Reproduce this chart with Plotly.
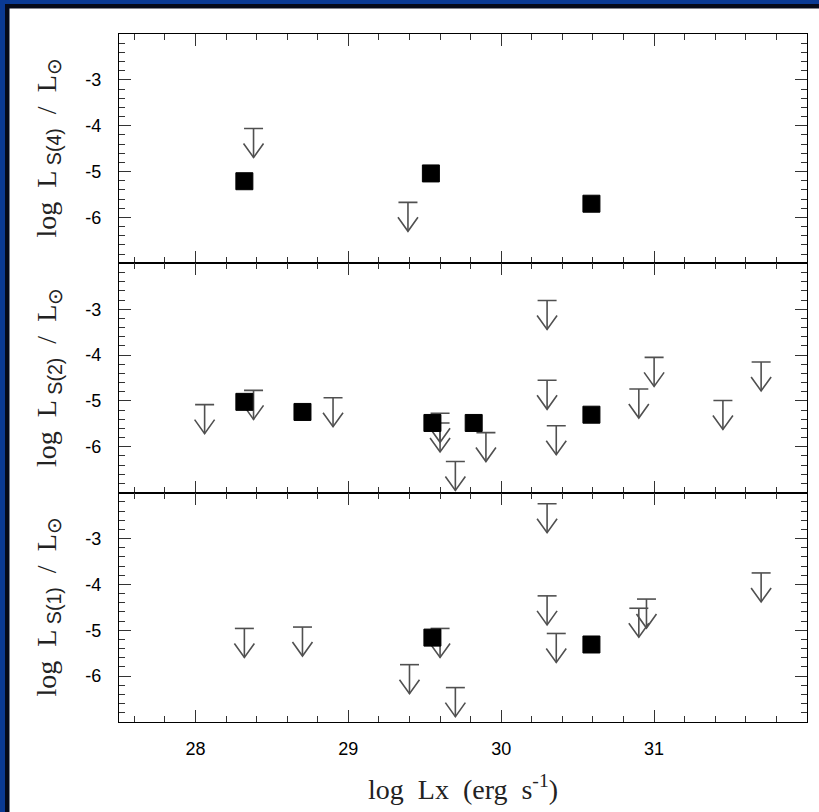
import plotly.graph_objects as go
from plotly.subplots import make_subplots

# ---------------- data ----------------
# Panel S(4) (top)
s4_det_x = [28.32, 29.54, 30.59]
s4_det_y = [-5.21, -5.04, -5.70]
s4_lim_x = [28.38, 29.39]
s4_lim_y = [-4.06, -5.67]

# Panel S(2) (middle)
s2_det_x = [28.32, 28.70, 29.55, 29.82, 30.59]
s2_det_y = [-5.02, -5.24, -5.48, -5.48, -5.30]
s2_lim_x = [28.06, 28.38, 28.90, 29.60, 29.60, 29.70, 29.90, 30.30, 30.30, 30.36, 30.90, 31.00, 31.45, 31.70]
s2_lim_y = [-5.08, -4.77, -4.93, -5.27, -5.48, -6.32, -5.69, -2.81, -4.55, -5.54, -4.74, -4.05, -4.99, -4.15]

# Panel S(1) (bottom)
s1_det_x = [29.55, 30.59]
s1_det_y = [-5.16, -5.31]
s1_lim_x = [28.32, 28.70, 29.40, 29.60, 29.70, 30.30, 30.30, 30.36, 30.90, 30.95, 31.70]
s1_lim_y = [-4.96, -4.93, -5.75, -4.96, -6.25, -2.24, -4.25, -5.07, -4.52, -4.32, -3.75]

x_tick_vals = [28, 29, 30, 31]
y_tick_vals = [-6, -5, -4, -3]
y_tick_text = ["-6", "-5", "-4", "-3"]

x_title = "log\u00a0\u00a0Lx\u00a0\u00a0(erg\u00a0\u00a0s<sup>-1</sup>)"
y_titles = [
    "log\u00a0\u00a0L<sub><span style='font-family:Liberation Sans'>\u00a0S(4)</span></sub>\u00a0\u00a0/\u00a0\u00a0L<sub>\u2299</sub>",
    "log\u00a0\u00a0L<sub><span style='font-family:Liberation Sans'>\u00a0S(2)</span></sub>\u00a0\u00a0/\u00a0\u00a0L<sub>\u2299</sub>",
    "log\u00a0\u00a0L<sub><span style='font-family:Liberation Sans'>\u00a0S(1)</span></sub>\u00a0\u00a0/\u00a0\u00a0L<sub>\u2299</sub>",
]

panels = [
    (s4_det_x, s4_det_y, s4_lim_x, s4_lim_y),
    (s2_det_x, s2_det_y, s2_lim_x, s2_lim_y),
    (s1_det_x, s1_det_y, s1_lim_x, s1_lim_y),
]

# ---------------- layout geometry ----------------
W, H = 819, 812
ML, MR, MT, MB = 119, 12, 34, 90
PW = W - ML - MR
PH = H - MT - MB
XR = [27.5, 32.0]
YR = [-7.0, -2.0]
px_per_x = PW / (XR[1] - XR[0])
px_per_y = (PH / 3) / (YR[1] - YR[0])


def pxx(px):
    return (px - ML) / PW


def pyy(py):
    return (H - MB - py) / PH


def limit_path(xs, ys):
    bx = 9.5 / px_per_x
    L = 29 / px_per_y
    ax = 10 / px_per_x
    ay = 14 / px_per_y
    X, Y = [], []
    for x, y in zip(xs, ys):
        X += [x - bx, x + bx, None, x, x, None, x - ax, x, x + ax, None]
        Y += [y, y, None, y, y - L, None, y - L + ay, y - L, y - L + ay, None]
    return X, Y


fig = make_subplots(rows=3, cols=1, shared_xaxes=True, vertical_spacing=0)

for i, (dx, dy, lx, ly) in enumerate(panels, start=1):
    ax_, ay_ = limit_path(lx, ly)
    fig.add_trace(go.Scatter(x=ax_, y=ay_, mode="lines",
                             line=dict(color="#505050", width=1.6),
                             hoverinfo="skip", showlegend=False), row=i, col=1)
    fig.add_trace(go.Scatter(x=dx, y=dy, mode="markers",
                             marker=dict(symbol="square", size=17, color="black",
                                         line=dict(color="black", width=1)),
                             hoverinfo="skip", showlegend=False), row=i, col=1)

tickfont = dict(family="Liberation Sans, Arial, sans-serif", size=18, color="black")

for i in range(1, 4):
    fig.update_xaxes(row=i, col=1, range=XR, tickvals=x_tick_vals,
                     ticks="inside", ticklen=12, tickwidth=1.3, tickcolor="#333",
                     showline=True, linecolor="black", linewidth=1.2, mirror="allticks",
                     showgrid=False, zeroline=False,
                     minor=dict(ticks="inside", ticklen=6, tickwidth=1.2, tickcolor="#333",
                                tickmode="linear", tick0=28, dtick=0.2, showgrid=False),
                     tickfont=tickfont, ticklabelstandoff=10,
                     showticklabels=(i == 3))
    fig.update_yaxes(row=i, col=1, range=YR, tickvals=y_tick_vals, ticktext=y_tick_text,
                     ticks="inside", ticklen=12, tickwidth=1.3, tickcolor="#333",
                     showline=True, linecolor="black", linewidth=1.2, mirror="allticks",
                     showgrid=False, zeroline=False,
                     minor=dict(ticks="inside", ticklen=6, tickwidth=1.2, tickcolor="#333",
                                tickmode="linear", tick0=-7, dtick=0.2, showgrid=False),
                     tickfont=tickfont, ticklabelstandoff=13)

title_font = dict(family="Liberation Serif, Times New Roman, serif", size=28, color="#222")

annotations = []
panel_centers = [148.5, 378, 607.5]
for t, cy in zip(y_titles, panel_centers):
    annotations.append(dict(text=t, xref="paper", yref="paper", x=pxx(48), y=pyy(cy),
                            xanchor="center", yanchor="middle", textangle=-90,
                            showarrow=False, font=title_font))
annotations.append(dict(text=x_title, xref="paper", yref="paper", x=pxx(463), y=pyy(787),
                        xanchor="center", yanchor="middle", showarrow=False, font=title_font))

shapes = [
    dict(type="rect", xref="paper", yref="paper", x0=pxx(0), x1=pxx(W + 20), y0=pyy(H + 20), y1=pyy(0),
         fillcolor="#0a3a94", line=dict(width=0), layer="below"),
    dict(type="rect", xref="paper", yref="paper", x0=pxx(5), x1=pxx(W + 20), y0=pyy(H + 20), y1=pyy(4),
         fillcolor="#050a1a", line=dict(width=0), layer="below"),
    dict(type="rect", xref="paper", yref="paper", x0=pxx(9.5), x1=pxx(W + 20), y0=pyy(H + 20), y1=pyy(8.5),
         fillcolor="white", line=dict(width=0), layer="below"),
]

fig.update_layout(width=W, height=H, margin=dict(l=ML, r=MR, t=MT, b=MB),
                  paper_bgcolor="white", plot_bgcolor="white",
                  annotations=annotations, shapes=shapes, showlegend=False)

fig.write_html("out.html", config={"displayModeBar": False},
               post_script="document.body.style.margin='0';document.body.style.padding='0';document.body.style.overflow='hidden';")
